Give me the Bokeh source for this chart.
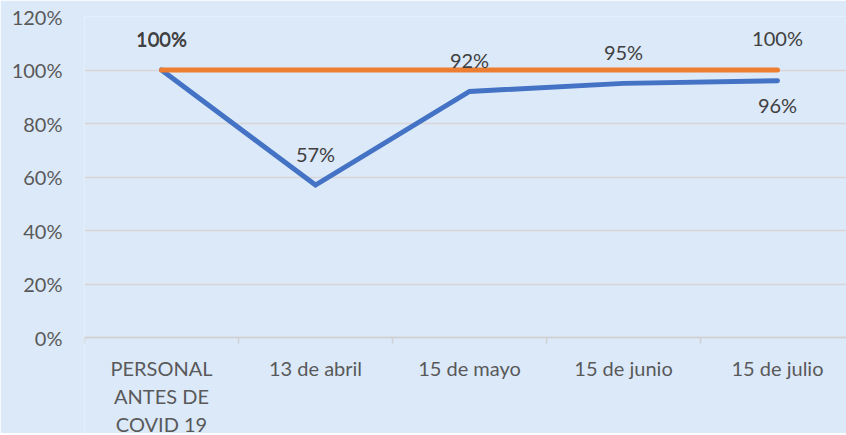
from bokeh.plotting import figure
from bokeh.models import ColumnDataSource, FixedTicker, Range1d, NumeralTickFormatter
from bokeh.core.properties import value
from bokeh.embed import file_html
from bokeh.resources import INLINE

categories = ["PERSONAL\nANTES DE\nCOVID 19", "13 de abril", "15 de mayo", "15 de junio", "15 de julio"]
blue_values = [1.00, 0.57, 0.92, 0.95, 0.96]
orange_values = [1.00, 1.00, 1.00, 1.00, 1.00]
blue_labels = ["100%", "57%", "92%", "95%", "96%"]
orange_labels = ["100%", "", "", "", "100%"]
y_ticks = [0, 0.2, 0.4, 0.6, 0.8, 1.0, 1.2]

BG = "#dce9f9"
BLUE = "#4472c4"
ORANGE = "#ed7d31"
FONT = "Lato"

xs = list(range(len(categories)))

p = figure(width=846, height=433, output_backend="svg", toolbar_location=None,
           x_range=Range1d(-0.5, -0.5 + 762 / 154), y_range=Range1d(-96 / 267.5, 1.2),
           min_border_left=84, min_border_right=0, min_border_top=16, min_border_bottom=0)
p.background_fill_color = BG
p.border_fill_color = BG
p.outline_line_color = None

p.line(xs, blue_values, line_color=BLUE, line_width=5, line_cap="round", line_join="miter")
p.line(xs, orange_values, line_color=ORANGE, line_width=5, line_cap="round")

blue_off = [-31 if i < len(xs) - 1 else 24 for i in xs]
src_b = ColumnDataSource(dict(x=xs, y=blue_values, t=blue_labels, off=blue_off))
p.text(x="x", y="y", text="t", y_offset="off", source=src_b, text_align="center",
       text_baseline="middle", text_font=value(FONT), text_font_size="20px", text_color="#404040")
src_o = ColumnDataSource(dict(x=xs, y=orange_values, t=orange_labels))
p.text(x="x", y="y", text="t", y_offset=-32, source=src_o, text_align="center",
       text_baseline="middle", text_font=value(FONT), text_font_size="20px", text_color="#404040")

# category labels below the 0% axis line (cut off at the bottom like the original)
src_c = ColumnDataSource(dict(x=xs, y=[0] * len(xs), t=categories))
p.text(x="x", y="y", text="t", y_offset=18, source=src_c, text_align="center",
       text_baseline="top", text_font=value(FONT), text_font_size="20px",
       text_color="#595959", text_line_height=1.18)

# x axis drawn at 0%
p.xaxis.fixed_location = 0
p.xaxis.ticker = FixedTicker(ticks=[], minor_ticks=[i - 0.5 for i in range(len(categories) + 1)])
p.xaxis.major_label_text_font_size = "0px"
p.xaxis.major_label_standoff = 0
p.xaxis.major_tick_line_color = None
p.xaxis.major_tick_out = 0
p.xaxis.major_tick_in = 0
p.xaxis.minor_tick_line_color = "#d0d0d0"
p.xaxis.minor_tick_line_width = 1.5
p.xaxis.minor_tick_out = 6
p.xaxis.minor_tick_in = 0
p.xaxis.axis_line_color = "#d0d0d0"
p.xaxis.axis_line_width = 1.5

p.yaxis.ticker = FixedTicker(ticks=y_ticks)
p.yaxis.formatter = NumeralTickFormatter(format="0%")
p.yaxis.axis_line_color = None
p.yaxis.major_tick_line_color = None
p.yaxis.major_tick_out = 0
p.yaxis.major_tick_in = 0
p.yaxis.minor_tick_line_color = None
p.yaxis.major_label_text_font = FONT
p.yaxis.major_label_text_font_size = "20px"
p.yaxis.major_label_text_color = "#595959"
p.yaxis.major_label_standoff = 22

p.xgrid.grid_line_color = None
p.ygrid.ticker = FixedTicker(ticks=y_ticks)
p.ygrid.grid_line_color = "#d6d6d6"
p.ygrid.grid_line_width = 1.5

open("out.html", "w").write(file_html(p, INLINE))
